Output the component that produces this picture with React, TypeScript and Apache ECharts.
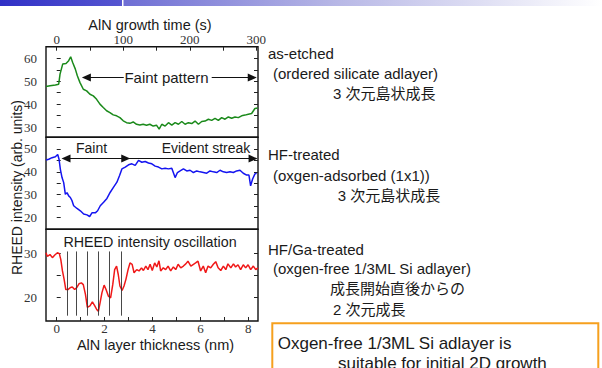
import React, { useEffect, useRef } from "react";
import * as echarts from "echarts";

// --- as-etched surface: RHEED intensity vs growth time (s)
const asEtchedTime = [-16, -10, -2, 3, 5, 9, 14, 18, 21, 24, 28, 31, 35, 40, 45, 50, 55, 60, 65, 70, 75, 80, 85, 90, 95, 100, 105, 110, 115, 120, 125, 130, 135, 140, 145, 150, 154, 158, 163, 168, 173, 178, 183, 188, 193, 198, 203, 208, 213, 218, 223, 228, 233, 238, 243, 248, 253, 258, 263, 268, 273, 278, 283, 288, 293, 298, 302];
const asEtchedIntensity = [47.7, 48.0, 48.4, 48.7, 53.1, 57.5, 57.8, 59.0, 60.7, 58.2, 55.3, 52.4, 49.4, 46.5, 45.8, 44.3, 43.6, 42.1, 40.0, 38.5, 37.1, 36.3, 35.3, 34.9, 34.1, 32.7, 31.9, 31.6, 32.2, 31.2, 30.9, 31.2, 30.8, 31.2, 30.4, 30.8, 29.1, 31.2, 30.4, 31.9, 30.8, 31.9, 31.2, 32.4, 31.2, 31.9, 31.5, 32.6, 31.2, 32.4, 32.6, 33.4, 32.9, 33.8, 32.9, 34.1, 33.4, 34.4, 33.8, 34.4, 34.1, 34.9, 35.2, 35.6, 35.9, 38.1, 38.3];

// --- HF-treated surface
const hfTime = [-16, -12, -7, -2, 1.5, 3.5, 5.5, 8, 10.5, 13, 15.5, 18, 20.5, 23, 25.5, 30.5, 35.5, 40.5, 45.5, 49.5, 53, 58, 61.5, 65.5, 70.5, 75.5, 80.5, 85.5, 90.5, 94.5, 98, 103, 108, 113, 118, 123, 128, 133, 138, 143, 148, 153, 158, 163, 168, 173, 178, 181.5, 185.5, 190.5, 195.5, 200.5, 205.5, 210.5, 215.5, 220.5, 225.5, 230.5, 235.5, 240.5, 245.5, 250.5, 255.5, 260.5, 265.5, 270.5, 275.5, 280.5, 285.5, 289, 291.5, 294.5, 298, 300.5];
const hfIntensity = [45.2, 45.5, 46.2, 46.6, 47.6, 45.5, 41.1, 37.5, 35.3, 30.2, 30.9, 29.5, 28.8, 27.4, 25.2, 24.0, 23.0, 21.6, 21.2, 20.5, 22.1, 22.1, 23.0, 25.2, 26.7, 28.4, 31.1, 33.3, 35.5, 38.4, 41.3, 42.1, 43.1, 43.5, 42.8, 45.0, 44.2, 44.5, 43.9, 43.5, 42.5, 42.1, 41.3, 41.6, 41.3, 41.6, 37.5, 39.7, 40.4, 41.3, 40.4, 40.7, 39.7, 40.4, 40.0, 39.7, 39.4, 40.4, 40.0, 39.7, 40.7, 40.0, 39.7, 40.0, 39.7, 40.4, 40.7, 39.4, 38.6, 38.6, 33.9, 36.9, 39.1, 39.4];

// --- HF/Ga-treated surface: RHEED intensity vs AlN thickness (nm)
const gaThickness = [-0.45, -0.39, -0.28, -0.18, -0.08, 0.03, 0.11, 0.17, 0.24, 0.31, 0.38, 0.47, 0.56, 0.65, 0.75, 0.83, 0.93, 1.03, 1.11, 1.2, 1.28, 1.39, 1.49, 1.59, 1.67, 1.74, 1.81, 1.89, 1.98, 2.06, 2.16, 2.25, 2.34, 2.42, 2.5, 2.57, 2.64, 2.73, 2.81, 2.89, 2.98, 3.06, 3.15, 3.23, 3.34, 3.44, 3.54, 3.62, 3.72, 3.81, 3.9, 3.99, 4.09, 4.18, 4.27, 4.34, 4.45, 4.55, 4.65, 4.76, 4.87, 4.97, 5.07, 5.18, 5.29, 5.39, 5.48, 5.6, 5.71, 5.8, 5.9, 6.01, 6.12, 6.22, 6.32, 6.43, 6.54, 6.64, 6.74, 6.85, 6.96, 7.06, 7.15, 7.27, 7.38, 7.47, 7.57, 7.68, 7.79, 7.89, 7.99, 8.1, 8.21, 8.31, 8.4];
const gaIntensity = [30.1, 29.3, 29.7, 29.0, 29.6, 30.1, 29.9, 28.6, 26.0, 24.1, 21.8, 21.8, 22.2, 22.4, 21.8, 22.2, 23.1, 23.3, 22.9, 20.7, 17.8, 18.1, 19.0, 18.1, 17.3, 16.9, 18.8, 21.1, 22.8, 21.8, 20.3, 19.9, 22.9, 26.3, 27.1, 25.2, 22.6, 21.6, 22.6, 24.1, 26.3, 27.8, 27.5, 25.6, 26.3, 26.0, 26.7, 26.1, 27.1, 26.3, 27.5, 26.1, 27.8, 26.9, 28.3, 26.0, 26.7, 26.3, 27.1, 26.0, 26.9, 26.3, 27.5, 26.7, 27.1, 27.6, 28.2, 27.1, 27.5, 27.8, 28.2, 26.0, 27.1, 25.6, 27.1, 26.7, 27.5, 28.1, 26.7, 26.1, 27.1, 26.3, 27.6, 26.7, 27.6, 26.9, 27.4, 26.3, 27.4, 26.7, 27.4, 26.3, 27.1, 26.3, 26.7];

// Oscillation minima marked with vertical lines (nm)
const oscillationMarks = [0.42, 0.835, 1.29, 1.75, 2.21, 2.71];

// Axis ticks and labels
const timeLabels = [0, 100, 200, 300];
const timeTicks = [0, 50, 100, 150, 200, 250, 300];
const thicknessLabels = [0, 2, 4, 6, 8];
const thicknessTicks = [0, 1, 2, 3, 4, 5, 6, 7, 8];
const panel1Labels = [30, 40, 50, 60];
const panel1Ticks = [30, 35, 40, 45, 50, 55, 60];
const panel2Labels = [20, 30, 40, 50];
const panel2Ticks = [20, 25, 30, 35, 40, 45, 50];
const panel3Labels = [20, 30];
const panel3Ticks = [20, 25, 30];

const zip = (xs: number[], ys: number[]) => xs.map((x, i) => [x, ys[i]]);

const SERIF = "'Liberation Serif', 'DejaVu Serif', serif";
const SANS = "'Liberation Sans', Arial, 'Noto Sans CJK JP', sans-serif";
const JP = "'Liberation Sans', 'Noto Sans CJK JP', sans-serif";
const INK = "#1a1a1a";

const GRID_L = 46;
const GRID_W = 212;

function leftAxis(grid: number, min: number, max: number, labels: number[], ticks: number[]) {
  return {
    type: "value", gridIndex: grid, position: "left", min, max,
    splitLine: { show: false }, axisLine: { show: false },
    axisTick: { inside: true, length: 4, customValues: ticks, lineStyle: { color: "#222", width: 1 } },
    axisLabel: { customValues: labels, margin: 9, fontFamily: SERIF, fontSize: 13, color: "#333" },
  };
}
function rightAxis(grid: number, min: number, max: number, ticks: number[]) {
  return {
    type: "value", gridIndex: grid, position: "right", min, max,
    splitLine: { show: false }, axisLine: { show: false },
    axisTick: { inside: true, length: 4, customValues: ticks, lineStyle: { color: "#222", width: 1 } },
    axisLabel: { show: false },
  };
}

function text(x: number, y: number, t: string, size: number, align = "left", family = SANS, extra: any = {}) {
  return {
    type: "text", x, y, silent: true, ...extra,
    style: { text: t, fill: INK, font: `${size}px ${family}`, align, verticalAlign: "middle" },
  };
}

// horizontal double/single headed arrow in data coordinates
function arrow(x0: number, x1: number, y: number, startHead: boolean, endHead: boolean) {
  return [
    { coord: [x0, y], symbol: startHead ? "triangle" : "none" },
    { coord: [x1, y], symbol: endHead ? "triangle" : "none" },
  ];
}

export default function App() {
  const ref = useRef<HTMLDivElement>(null);
  useEffect(() => {
    if (!ref.current) return;
    const chart = echarts.init(ref.current, null, { renderer: "svg" });
    const tMin = -16.1, tMax = 302.6;
    const nMin = -0.447, nMax = 8.405;
    const arrowLine = { color: "#111", width: 1.2, type: "solid" };

    chart.setOption({
      animation: false,
      backgroundColor: "#ffffff",
      grid: [
        { left: GRID_L, top: 46.7, width: GRID_W, height: 90.6, show: true, borderColor: "#111", borderWidth: 1.4, backgroundColor: "transparent" },
        { left: GRID_L, top: 137.3, width: GRID_W, height: 92, show: true, borderColor: "#111", borderWidth: 1.4, backgroundColor: "transparent" },
        { left: GRID_L, top: 229.3, width: GRID_W, height: 91.7, show: true, borderColor: "#111", borderWidth: 1.4, backgroundColor: "transparent" },
      ],
      xAxis: [
        {
          type: "value", gridIndex: 0, position: "top", min: tMin, max: tMax,
          splitLine: { show: false }, axisLine: { show: false },
          axisTick: { inside: true, length: 4, customValues: timeTicks, lineStyle: { color: "#222" } },
          axisLabel: { customValues: timeLabels, margin: 1, fontFamily: SERIF, fontSize: 13, color: "#333" },
        },
        { type: "value", gridIndex: 1, min: tMin, max: tMax, show: false },
        {
          type: "value", gridIndex: 2, position: "bottom", min: nMin, max: nMax,
          splitLine: { show: false }, axisLine: { show: false },
          axisTick: { inside: true, length: 4, customValues: thicknessTicks, lineStyle: { color: "#222" } },
          axisLabel: { customValues: thicknessLabels, margin: 1, fontFamily: SERIF, fontSize: 13, color: "#333" },
        },
      ],
      yAxis: [
        leftAxis(0, 25.5, 65.1, panel1Labels, panel1Ticks),
        leftAxis(1, 14.9, 55.1, panel2Labels, panel2Ticks),
        leftAxis(2, 14.7, 35.4, panel3Labels, panel3Ticks),
        rightAxis(0, 25.5, 65.1, panel1Ticks),
        rightAxis(1, 14.9, 55.1, panel2Ticks),
        rightAxis(2, 14.7, 35.4, panel3Ticks),
      ],
      series: [
        {
          type: "line", xAxisIndex: 0, yAxisIndex: 0, showSymbol: false, symbol: "none",
          data: zip(asEtchedTime, asEtchedIntensity),
          lineStyle: { color: "#1b8a1b", width: 1.5 },
          markLine: {
            silent: true, symbolSize: [8, 9], lineStyle: arrowLine, label: { show: false },
            data: [arrow(44.6, 100.8, 51.6, true, false), arrow(233, 294, 51.6, false, true)],
          },
        },
        {
          type: "line", xAxisIndex: 1, yAxisIndex: 1, showSymbol: false, symbol: "none",
          data: zip(hfTime, hfIntensity),
          lineStyle: { color: "#1414f0", width: 1.5 },
          markLine: {
            silent: true, symbolSize: [8, 9], lineStyle: arrowLine, label: { show: false },
            data: [arrow(14, 103.8, 45.8, true, true), arrow(103.8, 295.2, 45.8, false, true)],
          },
        },
        {
          type: "line", xAxisIndex: 2, yAxisIndex: 2, showSymbol: false, symbol: "none",
          data: zip(gaThickness, gaIntensity),
          lineStyle: { color: "#f01818", width: 1.5 },
          markLine: {
            silent: true, symbol: "none", lineStyle: { color: "#333", width: 0.9, type: "solid" }, label: { show: false },
            data: oscillationMarks.map((x) => [{ coord: [x, 30.4] }, { coord: [x, 15.9] }]),
          },
        },
      ],
      graphic: [
        // header banner
        {
          type: "rect", silent: true, shape: { x: 0, y: 0, width: 122, height: 6 },
          style: { fill: new echarts.graphic.LinearGradient(0, 0, 1, 0, [{ offset: 0, color: "#3030c6" }, { offset: 1, color: "#5656d0" }]) },
        },
        {
          type: "rect", silent: true, shape: { x: 123.5, y: 0, width: 478.5, height: 6 },
          style: { fill: new echarts.graphic.LinearGradient(0, 0, 1, 0, [{ offset: 0, color: "#6e6ed4" }, { offset: 0.45, color: "#b8b8e6" }, { offset: 1, color: "#ffffff" }]) },
        },
        // axis titles
        text(150, 25, "AlN growth time (s)", 14.5, "center"),
        text(155.5, 344.5, "AlN layer thickness (nm)", 14.5, "center"),
        text(16.5, 187.5, "RHEED intensity (arb. units)", 14, "center", SANS, { rotation: Math.PI / 2 }),
        // panel annotations
        text(166.5, 77.5, "Faint pattern", 15, "center"),
        text(91.5, 148.3, "Faint", 14, "center"),
        text(206, 148.3, "Evident streak", 14, "center"),
        text(150, 242, "RHEED intensity oscillation", 14.3, "center"),
        // surface descriptions
        text(268, 53.3, "as-etched", 15),
        text(273, 73.3, "(ordered silicate adlayer)", 15),
        text(333, 93.3, "3 次元島状成長", 15, "left", JP),
        text(268, 154, "HF-treated", 15),
        text(273, 175, "(oxgen-adsorbed (1x1))", 15),
        text(337.7, 195, "3 次元島状成長", 15, "left", JP),
        text(268, 249, "HF/Ga-treated", 15),
        text(273, 268.3, "(oxgen-free 1/3ML Si adlayer)", 15),
        text(330, 288.3, "成長開始直後からの", 15, "left", JP),
        text(333, 309, "2 次元成長", 15, "left", JP),
        // conclusion box
        {
          type: "rect", silent: true, shape: { x: 272.3, y: 323.3, width: 326, height: 60 },
          style: { fill: "#ffffff", stroke: "#f6a01e", lineWidth: 2 },
        },
        text(277.7, 343.3, "Oxgen-free 1/3ML Si adlayer is", 17),
        text(338, 363.3, "suitable for initial 2D growth", 17),
      ],
    });
    return () => chart.dispose();
  }, []);
  return <div ref={ref} style={{ position: "fixed", left: 0, top: 0, width: 602, height: 368 }} />;
}
